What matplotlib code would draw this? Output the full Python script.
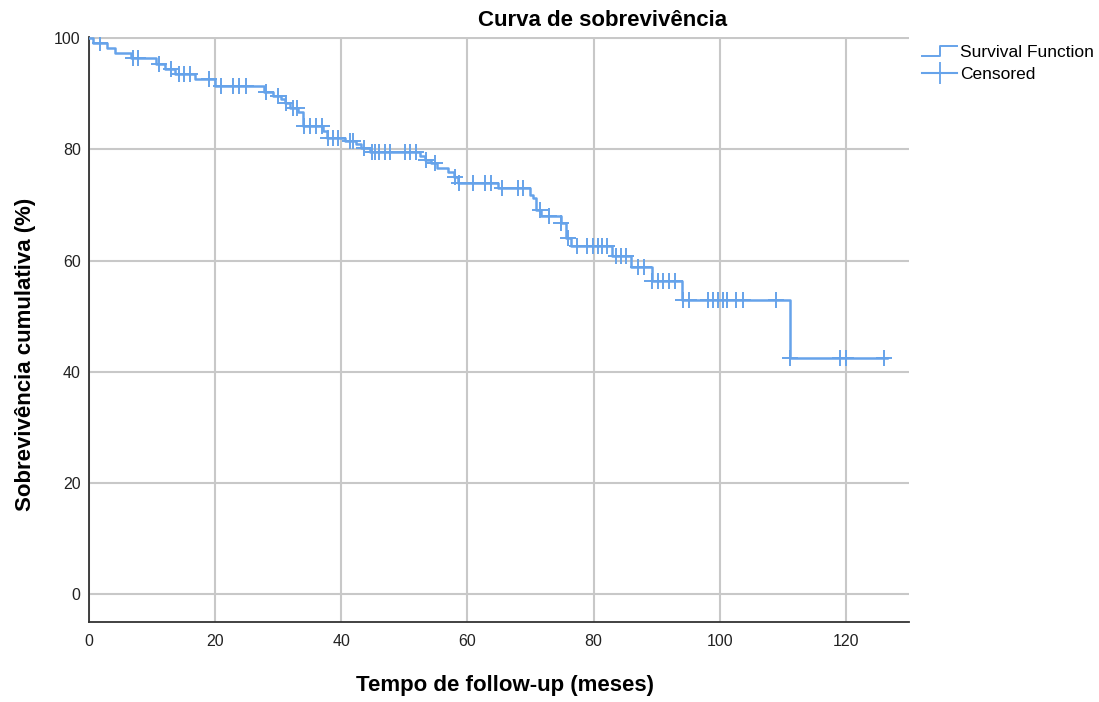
import numpy as np
import matplotlib
matplotlib.use("Agg")
import matplotlib.pyplot as plt
from matplotlib.legend_handler import HandlerBase
from matplotlib.lines import Line2D

plt.rcParams['font.family'] = ['Liberation Sans', 'DejaVu Sans']

# Kaplan-Meier step function: event times and survival level after each step (%)
step_times = [0.0, 0.6, 2.8, 4.1, 6.6, 10.7, 12.0, 13.6, 16.8, 20.0, 27.8, 29.1, 30.5,
              31.0, 31.8, 33.2, 34.0, 37.1, 37.8, 40.6, 42.4, 43.2, 44.5, 52.5, 53.2,
              54.3, 55.1, 57.0, 57.8, 58.5, 64.9, 69.9, 70.4, 70.9, 71.7, 74.8, 75.7,
              76.5, 82.9, 86.0, 89.2, 94.1, 111.1]
step_surv = [100.0, 99.1, 98.2, 97.3, 96.4, 95.4, 94.5, 93.5, 92.6, 91.5, 90.4, 89.7, 89.0,
             88.3, 87.5, 86.8, 84.2, 83.3, 82.1, 81.5, 80.9, 80.2, 79.6, 78.9, 78.1,
             77.5, 76.7, 76.0, 75.1, 73.9, 73.0, 71.8, 71.2, 69.2, 68.0, 66.7, 64.0,
             62.6, 60.8, 58.9, 56.3, 53.0, 42.4]
end_time = 126.6

# Censored observation times (months)
censor_times = [1.7, 6.9, 7.7, 11.1, 13.0, 14.3, 15.1, 16.0, 19.0, 20.9, 22.9, 23.8, 24.9,
                28.1, 30.0, 31.3, 32.3, 32.9, 34.1, 35.1, 36.0, 36.9, 37.9, 38.7, 39.5,
                41.4, 41.9, 43.6, 44.8, 45.4, 46.0, 46.9, 47.7, 50.1, 50.9, 51.8, 53.5,
                54.8, 58.0, 58.7, 60.9, 62.8, 63.8, 65.5, 68.0, 68.8, 71.5, 72.9, 74.9,
                76.0, 77.3, 79.0, 79.9, 80.7, 81.3, 82.1, 83.5, 84.3, 85.1, 87.1, 88.0,
                89.3, 90.2, 91.0, 92.0, 92.9, 94.2, 95.1, 98.1, 98.9, 99.7, 100.5, 101.1,
                102.6, 103.7, 109.0, 111.2, 119.1, 120.0, 126.1]

title = "Curva de sobrevivência"
xlabel = "Tempo de follow-up (meses)"
ylabel = "Sobrevivência cumulativa (%)"
xticks = [0, 20, 40, 60, 80, 100, 120]
yticks = [0, 20, 40, 60, 80, 100]

color = '#66a3ea'

fig = plt.figure(figsize=(10.99, 7.02), dpi=100)
ax = fig.add_axes([0.081, 0.114, 0.746, 0.833])

xs = list(step_times) + [end_time]
ys = list(step_surv) + [step_surv[-1]]
ax.step(xs, ys, where='post', color=color, lw=1.8, zorder=3)

st = np.array(step_times)
sv = np.array(step_surv)
idx = np.searchsorted(st, np.array(censor_times), side='right') - 1
cy = sv[idx]
ax.plot(censor_times, cy, linestyle='none', marker='+', markersize=11, mew=1.4,
        color=color, zorder=4)

ax.set_xlim(0, 130)
ax.set_ylim(-5, 100.2)
ax.set_xticks(xticks)
ax.set_yticks(yticks)
ax.grid(True, color='#c8c8c8', lw=1.5, zorder=0)
ax.set_axisbelow(True)
for s in ['top', 'right']:
    ax.spines[s].set_visible(False)
for s in ['left', 'bottom']:
    ax.spines[s].set_color('#333333')
    ax.spines[s].set_linewidth(1.3)
ax.tick_params(length=0, labelsize=11.5, colors='#222222')
ax.tick_params(axis='x', pad=9)
ax.tick_params(axis='y', pad=6)

fig.text(603 / 1099, 1 - 20 / 702, title, fontsize=16, fontweight='bold',
         ha='center', va='center')
ax.set_xlabel(xlabel, fontsize=16, fontweight='bold')
ax.set_ylabel(ylabel, fontsize=16, fontweight='bold')
ax.xaxis.set_label_coords(0.507, -0.109)
ax.yaxis.set_label_coords(-0.078, 0.458)
ax.xaxis.label.set_va('center')
ax.yaxis.label.set_va('center')


class StepHandler(HandlerBase):
    def create_artists(self, legend, orig_handle, xdescent, ydescent, width, height,
                       fontsize, trans):
        x0, x1 = -xdescent, -xdescent + width
        ym = -ydescent + height * 0.05
        yt = -ydescent + height * 0.85
        xm = x0 + width * 0.5
        l = Line2D([x0, xm, xm, x1], [ym, ym, yt, yt], color=color, lw=1.4)
        l.set_transform(trans)
        return [l]


h1 = Line2D([], [], color=color)
h2 = Line2D([], [], color=color, marker='+', markersize=16, mew=1.3)
leg = fig.legend([h1, h2], ['Survival Function', 'Censored'],
                 loc='upper left', bbox_to_anchor=(0.825, 0.959), frameon=False,
                 fontsize=12.5, handlelength=2.0, handletextpad=0.15,
                 labelspacing=0.4,
                 handler_map={h1: StepHandler()})

fig.savefig('out.png', dpi=100)
